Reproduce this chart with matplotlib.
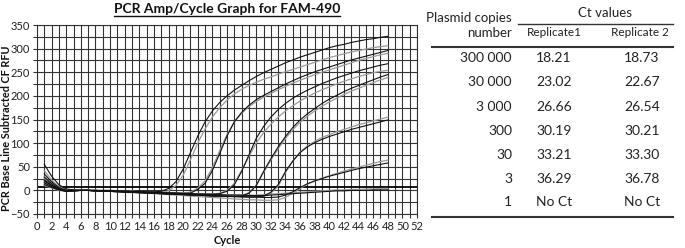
import numpy as np
import matplotlib
matplotlib.use("Agg")
import matplotlib.pyplot as plt
from matplotlib.lines import Line2D

plt.rcParams['font.family'] = ['Lato', 'DejaVu Sans']

# DATA
cycles = list(range(1, 49))

# 300 000 copies
a1 = [55, 30, 12, 3, 1, 0, 0, 0, 0, 0, -1, -1, -2, -2, -3, -3, -2,
      4, 18, 45, 80, 115, 145, 168, 186, 200, 212, 222, 232, 241, 249, 256,
      263, 270, 276, 282, 287, 292, 297, 302, 306, 309, 313, 316, 319, 321, 324, 326]
a2 = [42, 22, 8, 1, 0, 0, 0, 0, -1, -1, -1, -2, -2, -3, -3, -4, -4,
      -1, 10, 32, 65, 100, 130, 155, 175, 191, 204, 214, 222, 229, 235, 240,
      246, 251, 256, 261, 266, 271, 276, 281, 285, 289, 293, 296, 299, 302, 304, 306]
# 30 000 copies
b1 = [35, 18, 6, 0, -1, 0, 0, 0, -1, -1, -2, -2, -3, -3, -4, -4, -5,
      -5, -6, -6, -6, 2, 15, 42, 78, 115, 145, 165, 180, 192, 201, 209,
      217, 225, 232, 239, 245, 251, 256, 261, 266, 271, 276, 280, 284, 288, 292, 296]
b2 = [30, 15, 5, 0, 0, 0, 0, 0, -1, -1, -1, -2, -2, -3, -3, -4, -4,
      -5, -5, -5, -4, 5, 20, 48, 84, 118, 145, 163, 177, 188, 197, 205,
      213, 220, 227, 233, 239, 245, 250, 255, 260, 265, 270, 275, 279, 283, 287, 290]
# 3 000 copies
c1 = [28, 14, 4, -1, 0, 0, 0, -1, -1, -2, -2, -3, -3, -4, -4, -5, -5,
      -6, -6, -7, -7, -8, -8, -8, -7, -2, 12, 40, 75, 110, 135, 155,
      171, 184, 195, 204, 212, 219, 226, 232, 238, 243, 248, 253, 257, 261, 265, 268]
c2 = [24, 12, 3, 0, 0, 0, 0, 0, -1, -1, -2, -2, -3, -3, -4, -4, -5,
      -5, -6, -6, -7, -7, -8, -8, -6, 0, 15, 42, 72, 100, 122, 140,
      155, 168, 179, 189, 198, 206, 213, 219, 225, 231, 236, 241, 245, 249, 252, 254]
# 300 copies
d1 = [22, 11, 3, -1, -1, 0, 0, -1, -1, -2, -3, -3, -4, -5, -5, -6, -7,
      -8, -8, -9, -10, -10, -11, -12, -12, -13, -13, -12, -6, 10, 40, 67,
      92, 114, 133, 149, 162, 173, 184, 193, 201, 209, 216, 222, 228, 234, 240, 245]
d2 = [18, 9, 2, -1, 0, 0, 0, -1, -1, -2, -2, -3, -4, -4, -5, -6, -6,
      -7, -8, -8, -9, -10, -10, -11, -11, -12, -12, -11, -5, 11, 38, 64,
      88, 110, 128, 144, 157, 168, 178, 187, 195, 203, 210, 216, 222, 228, 234, 239]
# 30 copies
e1 = [16, 8, 2, -2, -1, 0, 0, -1, -2, -2, -3, -4, -4, -5, -6, -6, -7,
      -8, -8, -9, -10, -10, -11, -12, -12, -13, -13, -14, -14, -14, -12, -4,
      12, 40, 62, 80, 92, 101, 108, 114, 119, 124, 129, 133, 137, 141, 145, 149]
e2 = [14, 7, 1, -2, -1, 0, 0, -1, -1, -2, -3, -3, -4, -5, -5, -6, -7,
      -7, -8, -9, -9, -10, -11, -11, -12, -12, -13, -13, -14, -14, -13, -6,
      9, 38, 62, 81, 94, 104, 112, 118, 124, 129, 134, 139, 143, 147, 151, 155]
# 3 copies
f1 = [12, 6, 1, -2, -1, 0, 0, -1, -1, -2, -2, -3, -4, -4, -5, -6, -6,
      -7, -8, -8, -9, -10, -10, -11, -12, -12, -13, -13, -14, -14, -15, -15,
      -14, -10, -3, 6, 14, 20, 25, 30, 34, 38, 42, 46, 49, 52, 55, 58]
f2 = [10, 5, 0, -2, -1, 0, 0, -1, -2, -2, -3, -4, -5, -5, -6, -7, -8,
      -9, -10, -11, -12, -13, -14, -15, -16, -17, -18, -19, -20, -20, -21, -21,
      -20, -15, -6, 4, 13, 20, 26, 31, 36, 41, 45, 49, 53, 57, 61, 64]
# 1 copy
g1 = [20, 10, 3, -1, 0, 0, 0, -1, -1, -2, -2, -3, -3, -4, -4, -5, -5,
      -6, -6, -7, -7, -8, -8, -9, -9, -10, -10, -10, -11, -11, -11, -10,
      -9, -8, -7, -6, -5, -4, -3, -2, -1, -1, 0, 0, 0, 1, 1, 1]
g2 = [26, 13, 4, 0, 0, 0, 0, 0, -1, -1, -2, -2, -3, -3, -4, -4, -5,
      -5, -6, -6, -7, -7, -8, -8, -9, -9, -9, -10, -10, -10, -9, -8,
      -7, -6, -5, -4, -3, -2, -1, 0, 1, 1, 2, 2, 3, 3, 4, 4]

threshold = 8

copies = ["300 000", "30 000", "3 000", "300", "30", "3", "1"]
rep1 = ["18.21", "23.02", "26.66", "30.19", "33.21", "36.29", "No Ct"]
rep2 = ["18.73", "22.67", "26.54", "30.21", "33.30", "36.78", "No Ct"]

#PLOTTING
W, H = 685, 248
fig = plt.figure(figsize=(W / 100, H / 100), dpi=100)

def px(x, y):
    return x / W, 1 - y / H

ax = fig.add_axes([37 / W, 1 - 214 / H, 380 / W, 189 / H])

grid_col = '#333333'
for c in range(0, 53):
    ax.axvline(c, color=grid_col, lw=0.8, zorder=1)
for v in range(-50, 351, 25):
    ax.axhline(v, color=grid_col, lw=0.8, zorder=1)
ax.axhline(threshold, color='black', lw=1.3, zorder=2)

black_curves = [a1, b1, c1, d1, e1, f1, g1]
gray_curves = [a2, b2, c2, d2, e2, f2, g2]
for ys in gray_curves:
    ax.plot(cycles, ys, color='#9a9a9a', lw=0.9, zorder=3)
for ys in black_curves:
    ax.plot(cycles, ys, color='#111111', lw=0.8, zorder=4)

ax.set_xlim(0, 52)
ax.set_ylim(-50, 350)
ax.set_xticks(range(0, 53, 2))
ax.set_yticks(range(-50, 351, 50))
ax.set_xticks(range(0, 53), minor=True)
ax.set_yticks(range(-50, 351, 25), minor=True)
ax.tick_params(axis='both', which='both', direction='out', length=3,
               color=grid_col, width=0.8, labelsize=8, labelcolor='#222222', pad=2)
for s in ax.spines.values():
    s.set_color(grid_col)
    s.set_linewidth(0.8)

fig.text(*px(227, 241), "Cycle", ha='center', va='center', fontsize=8, fontweight='bold', color='#111111')
fig.text(*px(7, 128), "PCR Base Line Subtracted CF RFU", ha='center', va='center', rotation=90,
         fontsize=7.8, fontweight='bold', color='#111111')

title = fig.text(227 / W, 1 - 9 / H, "PCR Amp/Cycle Graph for FAM-490", ha='center', va='center',
                 fontsize=10, fontweight='bold', color='#111111')

# table on the right
tcol = '#222222'
fig.text(*px(512, 18), "Plasmid copies", ha='right', va='center', fontsize=9.5, color=tcol)
fig.text(*px(512, 33), "number", ha='right', va='center', fontsize=9.5, color=tcol)
fig.text(*px(605, 13), "Ct values", ha='center', va='center', fontsize=9.5, color=tcol)
fig.text(*px(554, 33), "Replicate1", ha='center', va='center', fontsize=8.5, color=tcol)
fig.text(*px(640, 33), "Replicate 2", ha='center', va='center', fontsize=8.5, color=tcol)

row_y = [58, 82, 107, 131, 155, 179, 202]
for yy, cp, r1, r2 in zip(row_y, copies, rep1, rep2):
    fig.text(*px(512, yy), cp, ha='right', va='center', fontsize=10, color=tcol)
    fig.text(*px(554, yy), r1, ha='center', va='center', fontsize=10, color=tcol)
    fig.text(*px(642, yy), r2, ha='center', va='center', fontsize=10, color=tcol)

def hline(x0, x1, y, lw):
    (fx0, fy), (fx1, _) = px(x0, y), px(x1, y)
    fig.add_artist(Line2D([fx0, fx1], [fy, fy], transform=fig.transFigure, color='#333333', lw=lw))

hline(518, 673, 24, 1.0)
hline(432, 673, 47, 1.5)
hline(432, 673, 217, 1.5)

# underline the title
fig.canvas.draw()
bb = title.get_window_extent().transformed(fig.transFigure.inverted())
fig.add_artist(Line2D([bb.x0, bb.x1], [bb.y0 - 0.004, bb.y0 - 0.004], transform=fig.transFigure,
                      color='#111111', lw=1.0))

fig.savefig("out.png", dpi=100)
